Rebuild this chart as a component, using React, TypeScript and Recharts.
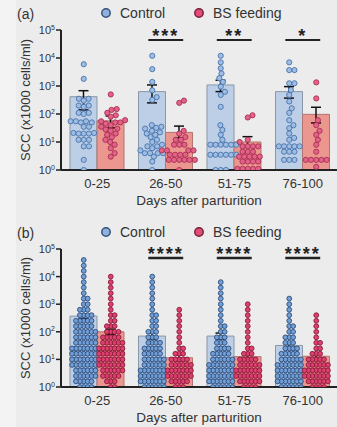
import {
  ComposedChart,
  Bar,
  Scatter,
  XAxis,
  YAxis,
  ErrorBar,
  ReferenceLine,
} from "recharts";

const CATS = ["0-25", "26-50", "51-75", "76-100"];
const Y_TICKS = [1, 10, 100, 1000, 10000, 100000];

// (a) means and SEM ends
const A_CTRL_MEAN = [415, 630, 1090, 630];
const A_CTRL_LO = [140, 250, 630, 370];
const A_CTRL_HI = [680, 1090, 1600, 950];
const A_BS_MEAN = [57, 22, 10, 97];
const A_BS_LO = [32, 14, 7, 48];
const A_BS_HI = [85, 37, 15.5, 174];
const A_SIG = ["", "***", "**", "*"];

// (a) individual cows
const A_CTRL_PTS = [
  [6000, 1800, 350, 350, 300, 200, 200, 180, 110, 110, 100, 55, 55, 55, 50, 50, 35, 35, 21, 21, 20, 20, 20, 12, 12, 12, 7, 7, 2.3, 1],
  [12000, 4000, 1400, 700, 400, 320, 40, 35, 32, 30, 25, 22, 20, 18, 15, 12, 10, 8, 7, 7, 6, 5, 4, 4, 4, 4, 3, 2, 1],
  [12000, 7000, 4300, 2800, 1900, 1400, 950, 620, 480, 180, 40, 27, 18, 12, 8, 8, 8, 8, 8, 8, 3.5, 3.5, 3.5, 3.5, 3.5, 3.5, 1, 1, 1],
  [7000, 3700, 3700, 1250, 1250, 720, 480, 280, 160, 110, 60, 40, 31, 20, 14, 12, 7, 7, 7, 7, 7, 4.5, 4.5, 4.5, 2.3, 2.3, 2.3],
];
const A_BS_PTS = [
  [500, 150, 140, 110, 90, 80, 60, 55, 50, 50, 45, 40, 35, 30, 28, 25, 20, 18, 15, 12, 10, 8, 6, 4, 3],
  [300, 250, 25, 20, 15, 12, 12, 8, 8, 8, 5, 5, 5, 5, 3.5, 3.5, 3.5, 3.5, 2.3, 2.3, 2.3, 2.3, 2.3, 2.3, 1],
  [90, 75, 12, 10, 7, 7, 7, 7, 4.5, 4.5, 4.5, 3, 3, 3, 3, 3, 2, 2, 2, 2, 1.1, 1.1, 1.1, 1.1, 1.1],
  [1350, 360, 60, 40, 25, 18, 12, 8, 4.5, 2.3, 2.3, 2.3, 2.3, 2.3, 1.3],
];

// (b) means and SEM ends
const B_CTRL_MEAN = [370, 70, 70, 32];
const B_CTRL_LO = [300, 55, 55, 25];
const B_CTRL_HI = [450, 90, 90, 40];
const B_BS_MEAN = [100, 11.5, 12.6, 13];
const B_BS_LO = [80, 9, 10, 10];
const B_BS_HI = [125, 14.5, 16, 17];
const B_SIG = ["", "****", "****", "****"];

// (b) all samples, counted per level
const B_BINS = [1, 1.6, 2.5, 4, 6.3, 10, 16, 25, 40, 63, 100, 160, 250, 400, 630, 1000, 1600, 2500, 4000, 6300, 10000, 16000, 25000, 40000];
const B_CTRL_COUNTS = [
  [4, 5, 6, 6, 7, 7, 7, 7, 6, 6, 6, 5, 5, 4, 3, 2, 2, 1, 1, 1, 1, 1, 1, 1],
  [6, 7, 7, 7, 6, 6, 5, 5, 4, 3, 3, 2, 2, 2, 1, 1, 1, 1, 1, 1, 1],
  [6, 7, 7, 7, 7, 6, 5, 4, 3, 3, 2, 2, 1, 1, 1, 1, 1, 1, 1, 1],
  [6, 7, 7, 7, 7, 6, 5, 4, 3, 3, 2, 2, 1, 1, 1, 1, 1],
];
const B_BS_COUNTS = [
  [2, 3, 5, 6, 7, 7, 7, 7, 6, 5, 4, 3, 2, 2, 1, 1, 1, 1, 1, 1, 1],
  [3, 5, 7, 7, 6, 5, 3, 2, 1, 1, 1, 1, 1, 1, 1],
  [4, 6, 7, 7, 6, 5, 3, 2, 1, 1, 1, 1, 1, 1, 1, 1],
  [4, 6, 7, 7, 6, 5, 3, 2, 2, 1, 1, 1, 1, 1],
];

const BAND = 68.5; // px per category
const HALF_BAR = 13.5;
const FONT = '"Liberation Sans", Arial, sans-serif';

// beeswarm: horizontal offsets (px) so dots don't overlap
function swarmOffsets(vals: number[], pxPerDec: number, d: number) {
  const order = vals.map((_, i) => i).sort((a, b) => vals[a] - vals[b]);
  const placed: { x: number; y: number }[] = [];
  const out = new Array(vals.length).fill(0);
  for (const i of order) {
    const y = Math.log10(vals[i]) * pxPerDec;
    const near = placed.filter((p) => Math.abs(p.y - y) < d);
    const cands = [0];
    near.forEach((p) => {
      const dx = Math.sqrt(d * d - (p.y - y) ** 2);
      cands.push(p.x + dx, p.x - dx);
    });
    cands.sort((a, b) => Math.abs(a) - Math.abs(b));
    const x = cands.find((c) => near.every((p) => (p.x - c) ** 2 + (p.y - y) ** 2 >= d * d - 0.01)) ?? 0;
    placed.push({ x, y });
    out[i] = x;
  }
  return out;
}

function toPoints(groups: number[][], side: number, pxPerDec: number, d: number) {
  return groups.flatMap((vals, gi) => {
    const off = swarmOffsets(vals, pxPerDec, d);
    return vals.map((v, k) => ({ x: gi + (side * HALF_BAR + off[k]) / BAND, y: v }));
  });
}

const expand = (counts: number[]) => counts.flatMap((n, j) => Array(n).fill(B_BINS[j]));

function makeRows(cm: number[], cl: number[], ch: number[], bm: number[], bl: number[], bh: number[]) {
  return CATS.map((cat, i) => ({
    cat,
    ctrl: cm[i],
    bs: bm[i],
    ctrlErr: [cm[i] - cl[i], ch[i] - cm[i]],
    bsErr: [bm[i] - bl[i], bh[i] - bm[i]],
  }));
}

const rowsA = makeRows(A_CTRL_MEAN, A_CTRL_LO, A_CTRL_HI, A_BS_MEAN, A_BS_LO, A_BS_HI);
const rowsB = makeRows(B_CTRL_MEAN, B_CTRL_LO, B_CTRL_HI, B_BS_MEAN, B_BS_LO, B_BS_HI);

const ptsA = {
  ctrl: toPoints(A_CTRL_PTS, -1, 28, 5.2),
  bs: toPoints(A_BS_PTS, 1, 28, 5.2),
};
const ptsB = {
  ctrl: toPoints(B_CTRL_COUNTS.map(expand), -1, 27.6, 3.9),
  bs: toPoints(B_BS_COUNTS.map(expand), 1, 27.6, 3.9),
};

function PowTick(props: any) {
  const { x, y, payload } = props;
  const e = Math.round(Math.log10(payload.value));
  return (
    <text x={x} y={y} dy={4} textAnchor="end" fontSize={11} fill="#333">
      <tspan>10</tspan>
      <tspan dy={-4.5} fontSize={7}>{e}</tspan>
    </text>
  );
}

const dot = (r: number, fill: string, stroke: string) => (p: any) =>
  <circle cx={p.cx} cy={p.cy} r={r} fill={fill} stroke={stroke} strokeWidth={0.9} />;

interface PanelProps {
  tag: string;
  top: number;
  height: number;
  rows: ReturnType<typeof makeRows>;
  pts: { ctrl: { x: number; y: number }[]; bs: { x: number; y: number }[] };
  sig: string[];
  sigY: number;
  r: number;
  ctrlDot: [string, string];
  bsDot: [string, string];
  sigWidth: number;
}

function Panel({ tag, top, height, rows, pts, sig, sigY, r, ctrlDot, bsDot, sigWidth }: PanelProps) {
  return (
    <div style={{ position: "absolute", left: 0, top, width: 337, height: height + 6 }}>
      <ComposedChart
        width={337}
        height={height + 6}
        data={rows}
        margin={{ top: 30, right: 0, left: 16, bottom: 6 }}
        barGap={0}
      >
        <XAxis
          xAxisId="cat"
          dataKey="cat"
          interval={0}
          tickLine={false}
          tickMargin={3}
          height={36}
          padding={{ left: 2, right: 0 }}
          axisLine={{ stroke: "#222", strokeWidth: 2 }}
          tick={{ fontSize: 13, fill: "#333" }}
          label={{ value: "Days after parturition", position: "insideBottom", offset: 1, fontSize: 13.5, fill: "#333" }}
        />
        <XAxis xAxisId="top" dataKey="cat" hide padding={{ left: 2, right: 0 }} />
        <XAxis
          xAxisId="num"
          type="number"
          dataKey="x"
          domain={[-0.5, 3.5]}
          allowDataOverflow
          hide
          padding={{ left: 2, right: 0 }}
        />
        <YAxis
          scale="log"
          domain={[1, 100000]}
          allowDataOverflow
          ticks={Y_TICKS}
          interval={0}
          width={45}
          tickSize={5}
          tickMargin={1}
          axisLine={{ stroke: "#222", strokeWidth: 2 }}
          tickLine={{ stroke: "#222", strokeWidth: 1.5 }}
          tick={(p: any) => <PowTick {...p} />}
          label={{ value: "SCC (x1000 cells/ml)", angle: -90, position: "center", dx: -13.5, fontSize: 13, fill: "#333" }}
        />
        <Bar xAxisId="cat" dataKey="ctrl" barSize={27} fill="#bccfe6" stroke="#8b97a6" strokeWidth={1} isAnimationActive={false} />
        <Bar xAxisId="cat" dataKey="bs" barSize={27} fill="#eb968f" stroke="#b07571" strokeWidth={1} isAnimationActive={false} />
        <Scatter xAxisId="num" data={pts.ctrl} dataKey="y" shape={dot(r, ctrlDot[0], ctrlDot[1])} isAnimationActive={false} />
        <Scatter xAxisId="num" data={pts.bs} dataKey="y" shape={dot(r, bsDot[0], bsDot[1])} isAnimationActive={false} />
        <Bar xAxisId="top" dataKey="ctrl" barSize={27} fill="none" isAnimationActive={false}>
          <ErrorBar dataKey="ctrlErr" stroke="#111" strokeWidth={1.5} width={5} />
        </Bar>
        <Bar xAxisId="top" dataKey="bs" barSize={27} fill="none" isAnimationActive={false}>
          <ErrorBar dataKey="bsErr" stroke="#111" strokeWidth={1.5} width={5} />
        </Bar>
        {sig.map((s, i) =>
          s ? (
            <ReferenceLine
              key={i}
              xAxisId="num"
              ifOverflow="visible"
              segment={[{ x: i - 0.255, y: sigY }, { x: i + 0.255, y: sigY }]}
              stroke="#222"
              strokeWidth={sigWidth}
              label={(p: any) => {
                const vb = p.viewBox;
                return (
                  <text
                    x={vb.x + vb.width / 2}
                    y={vb.y + 2}
                    textAnchor="middle"
                    fontSize={18}
                    fontWeight="bold"
                    letterSpacing={2}
                    fill="#222"
                  >
                    {s}
                  </text>
                );
              }}
            />
          ) : null,
        )}
      </ComposedChart>
      <svg width={337} height={26} style={{ position: "absolute", left: 0, top: 0 }}>
        <text x={17} y={19} fontSize={14} fill="#333">{tag}</text>
        <circle cx={106} cy={13} r={4.2} fill="#8fb2dc" stroke="#34507a" strokeWidth={1.5} />
        <text x={120} y={17.5} fontSize={14} fill="#333">Control</text>
        <circle cx={199} cy={13} r={4.2} fill="#e14d78" stroke="#7a1f3a" strokeWidth={1.5} />
        <text x={213} y={17.5} fontSize={14} fill="#333">BS feeding</text>
      </svg>
    </div>
  );
}

export default function App() {
  return (
    <div
      style={{
        position: "absolute",
        left: 0,
        top: 0,
        width: 337,
        height: 427,
        background: "#ececec",
        fontFamily: FONT,
        overflow: "hidden",
      }}
    >
      <div style={{ position: "absolute", left: 0, top: 0, width: 16, height: 427, background: "#f3f3f3" }} />
      <Panel
        tag="(a)"
        top={0}
        height={206}
        rows={rowsA}
        pts={ptsA}
        sig={A_SIG}
        sigY={44000}
        r={2.6}
        ctrlDot={["#9dbde2", "#4a73ab"]}
        bsDot={["#e3628a", "#a8304f"]}
        sigWidth={2}
      />
      <Panel
        tag="(b)"
        top={219}
        height={204}
        rows={rowsB}
        pts={ptsB}
        sig={B_SIG}
        sigY={47000}
        r={2.4}
        ctrlDot={["#729fd6", "#2b4c7c"]}
        bsDot={["#dc416f", "#8a1838"]}
        sigWidth={2.6}
      />
    </div>
  );
}
